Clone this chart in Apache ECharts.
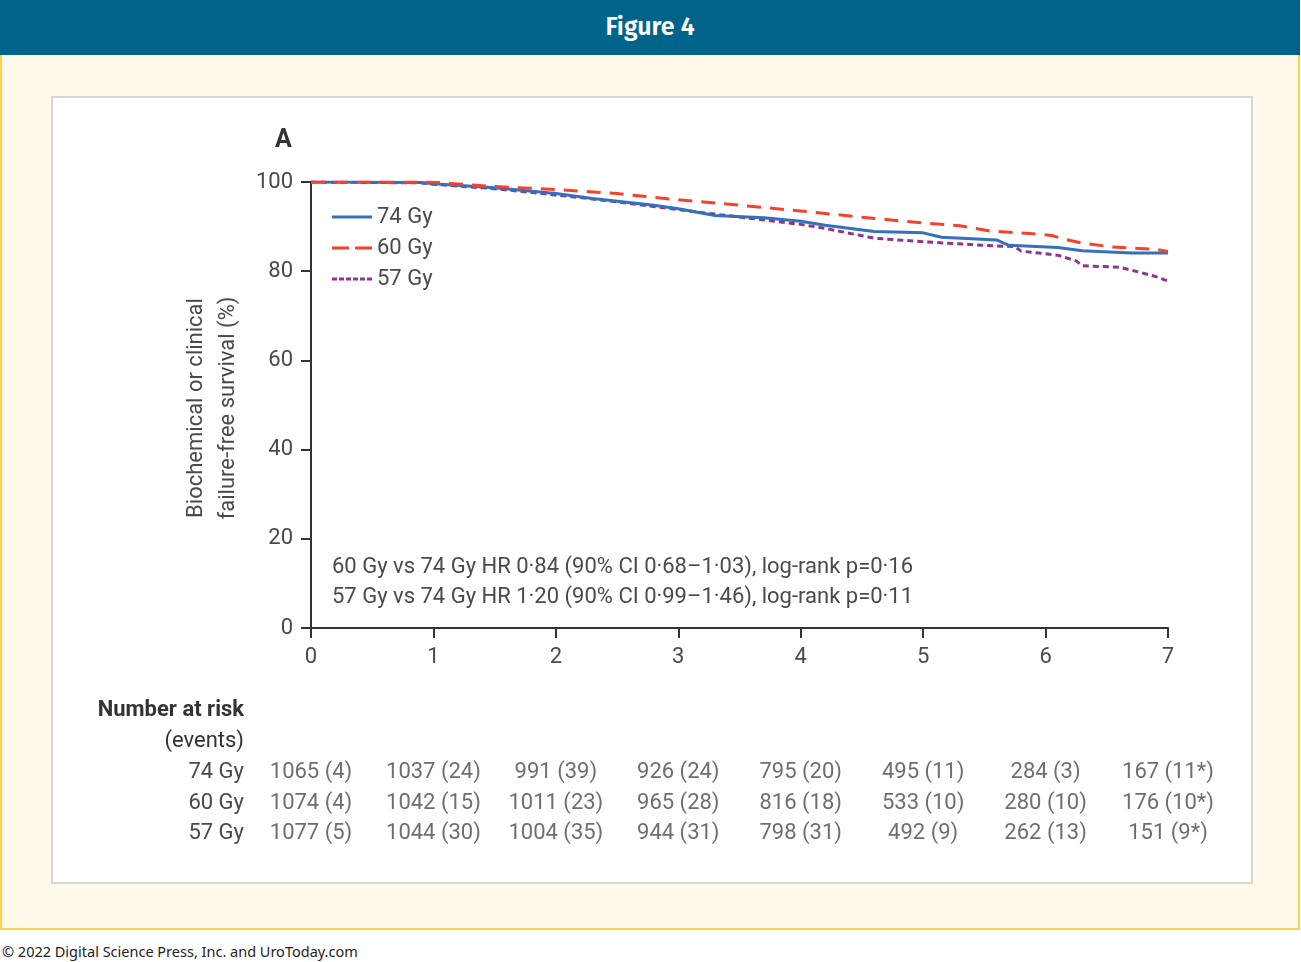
<!DOCTYPE html>
<html>
<head>
<meta charset="utf-8">
<script src="https://cdn.jsdelivr.net/npm/echarts@6/dist/echarts.min.js"></script>
<style>
  html, body { margin: 0; padding: 0; background: #ffffff; }
  body { width: 1301px; height: 962px; position: relative; overflow: hidden; }
  .header {
    position: absolute; left: 0; top: 0; width: 1300px; height: 55px;
    background: #00638a; color: #fff; text-align: center;
    font: 600 25px/55px 'Fira Sans', 'Noto Sans', sans-serif;
  }
  .frame {
    position: absolute; left: 0; top: 55px; width: 1296px; height: 873px;
    background: #fff9ea; border: 2px solid #ffd24d; border-top: none;
  }
  .panel {
    position: absolute; left: 51px; top: 96px; width: 1198px; height: 784px;
    background: #fff; border: 2px solid #d6d6d6;
  }
  .copy {
    position: absolute; left: 2px; top: 941px;
    font: 14.5px 'Noto Sans', sans-serif; color: #222;
  }
  #chart { position: absolute; left: 0; top: 0; width: 1301px; height: 962px; }
</style>
</head>
<body>
<div class="header">Figure 4</div>
<div class="frame"></div>
<div class="panel"></div>
<div class="copy">© 2022 Digital Science Press, Inc. and UroToday.com</div>
<div id="chart"></div>
<script>
// 生存曲线数据（年, %）
const curve74 = [[0,100],[0.9,99.9],[1.0,99.6],[1.5,98.7],[2.0,97.4],[2.3,96.3],[2.8,94.8],[3.0,94.0],[3.3,92.5],[3.7,92.0],[4.0,91.2],[4.2,90.3],[4.6,88.9],[5.0,88.6],[5.15,87.6],[5.6,87.0],[5.7,85.8],[6.1,85.3],[6.3,84.6],[6.7,84.1],[7.0,84.1]];
const curve60 = [[0,100],[0.95,100],[1.5,99.0],[2.0,98.3],[2.5,97.4],[3.0,96.0],[3.5,94.8],[4.0,93.5],[4.5,92.1],[5.0,90.8],[5.3,90.2],[5.55,89.0],[5.9,88.4],[6.05,88.0],[6.15,87.2],[6.3,86.3],[6.55,85.4],[6.9,84.9],[7.0,84.4]];
const curve57 = [[0,100],[0.9,99.8],[1.0,99.5],[1.5,98.5],[2.0,97.1],[2.3,96.2],[2.8,94.5],[3.0,93.8],[3.3,92.8],[3.7,91.5],[4.0,90.5],[4.2,89.6],[4.6,87.4],[5.0,86.6],[5.5,85.8],[5.75,85.5],[5.8,84.5],[6.1,83.6],[6.25,82.3],[6.3,81.2],[6.6,80.9],[6.75,79.9],[6.9,78.8],[7.0,77.8]];

// 风险人数表
const riskYears = [0, 1, 2, 3, 4, 5, 6, 7];
const riskGroups = ['74 Gy', '60 Gy', '57 Gy'];
const atRisk74 = [1065, 1037, 991, 926, 795, 495, 284, 167];
const events74 = ['4', '24', '39', '24', '20', '11', '3', '11*'];
const atRisk60 = [1074, 1042, 1011, 965, 816, 533, 280, 176];
const events60 = ['4', '15', '23', '28', '18', '10', '10', '10*'];
const atRisk57 = [1077, 1044, 1004, 944, 798, 492, 262, 151];
const events57 = ['5', '30', '35', '31', '31', '9', '13', '9*'];

const hrLines = [
  '60 Gy vs 74 Gy HR 0·84 (90% CI 0·68–1·03), log-rank p=0·16',
  '57 Gy vs 74 Gy HR 1·20 (90% CI 0·99–1·46), log-rank p=0·11'
];

const FONT = "'Roboto', sans-serif";
const TXT = '#4a4a4a';
const AXIS = '#333';

// 图例线型图标（实线 / 长虚线 / 点线）
const ICON_SOLID = 'path://M0,0H40V3H0Z';
const ICON_DASH = 'path://M0,0H17V3H0Z M23,0H40V3H23Z';
const ICON_DOT = 'path://M0,0H5V3H0Z M7,0H12V3H7Z M14,0H19V3H14Z M21,0H26V3H21Z M28,0H33V3H28Z M35,0H40V3H35Z';

const riskAll = [[atRisk74, events74], [atRisk60, events60], [atRisk57, events57]];
const riskPoints = [];
riskAll.forEach(([n, ev], row) => {
  riskYears.forEach((yr, i) => {
    riskPoints.push({ value: [yr, row], label: { formatter: n[i] + ' (' + ev[i] + ')' } });
  });
});

const chart = echarts.init(document.getElementById('chart'), null, { renderer: 'canvas' });

const option = {
  backgroundColor: 'transparent',
  animation: false,
  textStyle: { fontFamily: FONT },
  grid: [
    { left: 311, right: 133, top: 182, bottom: 334 },
    { left: 311, right: 133, top: 757, height: 92 }
  ],
  legend: {
    orient: 'vertical',
    left: 332,
    top: 206,
    padding: 0,
    itemWidth: 40,
    itemHeight: 3,
    itemGap: 9,
    textStyle: { fontFamily: FONT, fontSize: 22, color: TXT },
    data: [
      { name: '74 Gy', icon: ICON_SOLID },
      { name: '60 Gy', icon: ICON_DASH },
      { name: '57 Gy', icon: ICON_DOT }
    ]
  },
  xAxis: [
    {
      gridIndex: 0, type: 'value', min: 0, max: 7, interval: 1,
      axisLine: { onZero: false, lineStyle: { color: AXIS, width: 2 } },
      axisTick: { length: 10, lineStyle: { color: AXIS, width: 2 } },
      axisLabel: { fontSize: 22, color: TXT, margin: 18, fontFamily: FONT },
      splitLine: { show: false }
    },
    {
      gridIndex: 1, type: 'value', min: 0, max: 7, show: false
    }
  ],
  yAxis: [
    {
      gridIndex: 0, type: 'value', min: 0, max: 100, interval: 20,
      axisLine: { show: true, lineStyle: { color: AXIS, width: 2 } },
      axisTick: { show: true, length: 10, lineStyle: { color: AXIS, width: 2 } },
      axisLabel: { fontSize: 22, color: TXT, margin: 18, fontFamily: FONT },
      splitLine: { show: false }
    },
    {
      gridIndex: 1, type: 'category', data: riskGroups, inverse: true,
      axisLine: { show: false }, axisTick: { show: false },
      axisLabel: { fontSize: 22, color: TXT, margin: 67, fontFamily: FONT }
    }
  ],
  graphic: [
    { type: 'text', left: 275, top: 128, style: { text: 'A', font: "bold 25px " + FONT, fill: '#333' } },
    {
      type: 'text', x: 212, y: 408, rotation: Math.PI / 2,
      style: {
        text: 'Biochemical or clinical\nfailure-free survival (%)',
        font: '22px ' + FONT, fill: TXT, align: 'center', verticalAlign: 'middle', lineHeight: 32
      }
    },
    { type: 'text', x: 332, y: 567, style: { text: hrLines[0], font: '22px ' + FONT, fill: TXT, verticalAlign: 'middle' } },
    { type: 'text', x: 332, y: 597, style: { text: hrLines[1], font: '22px ' + FONT, fill: TXT, verticalAlign: 'middle' } },
    { type: 'text', x: 244, y: 710, style: { text: 'Number at risk', font: 'bold 22px ' + FONT, fill: '#333', align: 'right', verticalAlign: 'middle' } },
    { type: 'text', x: 244, y: 741, style: { text: '(events)', font: '22px ' + FONT, fill: '#333', align: 'right', verticalAlign: 'middle' } }
  ],
  series: [
    {
      name: '74 Gy', type: 'line', data: curve74, showSymbol: false, symbol: 'none',
      lineStyle: { color: '#3470bd', width: 3 }, itemStyle: { color: '#3470bd' }, z: 3
    },
    {
      name: '60 Gy', type: 'line', data: curve60, showSymbol: false, symbol: 'none',
      lineStyle: { color: '#f5412f', width: 3, type: [14, 9] }, itemStyle: { color: '#f5412f' }, z: 4
    },
    {
      name: '57 Gy', type: 'line', data: curve57, showSymbol: false, symbol: 'none',
      lineStyle: { color: '#8c3593', width: 3, type: [6, 4] }, itemStyle: { color: '#8c3593' }, z: 2
    },
    {
      name: 'risk', type: 'scatter', xAxisIndex: 1, yAxisIndex: 1,
      data: riskPoints, symbolSize: 1, itemStyle: { color: 'rgba(0,0,0,0)' },
      label: { show: true, position: 'inside', fontSize: 22, color: TXT, fontFamily: FONT },
      silent: true
    }
  ]
};

chart.setOption(option);
</script>
</body>
</html>
